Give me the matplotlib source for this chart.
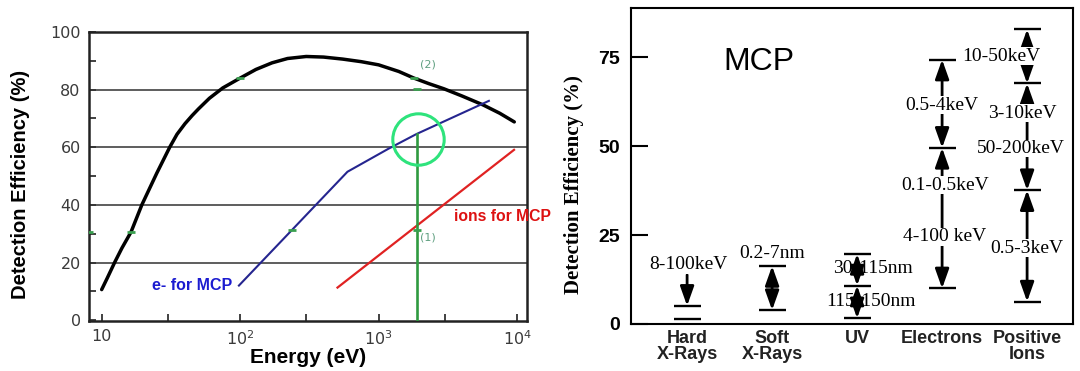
import matplotlib
matplotlib.use("Agg")
from matplotlib import pyplot as plt
from matplotlib.ticker import FixedLocator, NullFormatter

# ---- left panel: detection efficiency vs energy
black_energy = [10, 11, 12.4, 14, 16.3, 19.5, 25, 31, 35, 40, 45, 50, 60, 75,
                100, 130, 170, 220, 300, 400, 550, 750, 1000, 1400, 1800,
                2300, 2960, 4000, 5680, 7500, 9550]
black_eff = [10.6, 14.7, 20, 25, 30.6, 40, 51, 60, 64.5, 68.2, 71, 73.3,
             77, 80.6, 84, 87, 89.3, 90.8, 91.5, 91.3, 90.6, 89.7, 88.6,
             86.3, 84, 82.1, 80.3, 77.8, 74.7, 71.8, 68.8]

electron_energy = [98, 238, 596, 1180, 1880, 6260]
electron_eff = [12.0, 31.4, 51.5, 59.5, 64.6, 76.1]

ion_energy = [505, 9510]
ion_eff = [11.3, 59.1]

marker_energy = [8.1, 16.3, 100, 1800, 1880, 238, 1880]
marker_eff = [30.6, 30.6, 84, 84, 80.3, 31.4, 31.4]

cut_energy = 1880
cut_eff = 64.6
circle_energy = 1920
circle_eff = 63

x_ticks = [10, 100, 1000, 10000]
x_tick_labels = ["10", "$10^2$", "$10^3$", "$10^4$"]

# ---- right panel: MCP efficiency ranges
categories = ["Hard\nX-Rays", "Soft\nX-Rays", "UV", "Electrons", "Positive\nIons"]

cap_cat = [0, 0, 1, 1, 2, 2, 2, 3, 3, 3, 4, 4, 4, 4]
cap_y = [1.3, 5.1, 3.9, 16.3, 1.6, 10.8, 19.7, 10.0, 49.5, 74.3,
         6.3, 37.6, 67.6, 82.8]

arrow_cat = [0, 1, 2, 2, 3, 3, 4, 4, 4]
arrow_from = [13.8, 3.9, 10.8, 1.6, 49.5, 10.0, 67.6, 37.6, 6.3]
arrow_to = [5.1, 16.3, 19.7, 10.8, 74.3, 49.5, 82.8, 67.6, 37.6]
arrow_style = ["-|>", "<|-|>", "<|-|>", "<|-|>", "<|-|>", "<|-|>",
               "<|-|>", "<|-|>", "<|-|>"]

label_cat = [0, 1, 2, 2, 3, 3, 3, 4, 4, 4, 4]
label_y = [16.6, 19.9, 15.6, 6.3, 61.5, 39.0, 24.5, 75.3, 59.2, 49.3, 21.3]
label_text = ["8-100keV", "0.2-7nm", "30-115nm", "115-150nm", "0.5-4keV",
              "0.1-0.5keV", "4-100 keV", "10-50keV", "3-10keV",
              "50-200keV", "0.5-3keV"]
label_dx = [0.02, 0.0, 0.19, 0.16, 0.0, 0.03, 0.03, -0.3, -0.05, -0.07, 0.0]
label_box = [True, True, False, False, True, True, True, True, True, True, True]

fig = plt.figure(figsize=(10.8, 3.71), dpi=100)

# ================= left panel
ax1 = fig.add_axes([89 / 1080, 50 / 371, 438 / 1080, 289 / 371])
ax1.set_xscale("log")
ax1.set_xlim(8.1, 11800)
ax1.set_ylim(-0.3, 100)

for y in range(20, 100, 20):
    ax1.axhline(y, color="#505050", lw=1.3, zorder=1)

ax1.plot(black_energy, black_eff, color="black", lw=2.5, zorder=3,
         solid_capstyle="round", solid_joinstyle="round")
ax1.plot(electron_energy, electron_eff, color="#25258f", lw=1.5, zorder=3)
ax1.plot(ion_energy, ion_eff, color="#e02222", lw=1.6, zorder=3)
ax1.plot([cut_energy, cut_energy], [-0.3, cut_eff], color="#2f9a40",
         lw=1.9, zorder=4)
ax1.plot(marker_energy, marker_eff, ls="none", marker="_", ms=6, mew=2,
         color="#3aa050", zorder=5)
ax1.plot([circle_energy], [circle_eff], ls="none", marker="o", ms=37,
         mfc="none", mec="#2ee37c", mew=2.2, zorder=6)

ax1.text(2265, 88.6, "(2)", fontsize=8, color="#5f9f80", ha="center",
         va="center")
ax1.text(2265, 28.7, "(1)", fontsize=8, color="#5f9f80", ha="center",
         va="center")
ax1.text(87.5, 12.0, "e- for MCP", color="#1c1cd0", fontsize=11.5,
         fontweight="bold", family="Liberation Sans", ha="right", va="center")
ax1.text(3490, 35.9, "ions for MCP", color="#dd1111", fontsize=11.3,
         fontweight="bold", family="Liberation Sans", ha="left", va="center",
         clip_on=False)

ax1.set_xticks(x_ticks)
ax1.set_xticklabels(x_tick_labels)
ax1.xaxis.set_minor_locator(FixedLocator([30, 300, 3000]))
ax1.xaxis.set_minor_formatter(NullFormatter())
ax1.set_yticks(range(0, 101, 20))
ax1.yaxis.set_minor_locator(FixedLocator(range(10, 100, 20)))
ax1.tick_params(which="both", direction="in", length=5, width=1.3,
                color="#333333", labelsize=11.5, labelcolor="#3a3a3a", pad=6)
for s in ax1.spines.values():
    s.set_linewidth(1.8)
    s.set_color("#222222")

ax1.set_xlabel("Energy (eV)", fontsize=15, fontweight="bold",
               family="Liberation Sans")
ax1.xaxis.label.set_va("center")
ax1.xaxis.set_label_coords(0.5, -0.128)
ax1.set_ylabel("Detection Efficiency (%)", fontsize=14.5, fontweight="bold",
               family="Liberation Sans")
ax1.yaxis.label.set_va("center")
ax1.yaxis.set_label_coords(-0.157, 0.474)

# ================= right panel
ax2 = fig.add_axes([631 / 1080, 47 / 371, 442 / 1080, 316 / 371])
ax2.set_xlim(-0.66, 4.54)
ax2.set_ylim(0, 88.8)

ax2.hlines(cap_y, [c - 0.16 for c in cap_cat], [c + 0.16 for c in cap_cat],
           color="black", lw=1.7, zorder=3)

for c, y0, y1, st in zip(arrow_cat, arrow_from, arrow_to, arrow_style):
    ax2.annotate("", xy=(c, y1), xytext=(c, y0),
                 arrowprops=dict(arrowstyle=st + ",head_length=0.9,head_width=0.32",
                                 mutation_scale=13, lw=2.0, color="black",
                                 shrinkA=0, shrinkB=0), zorder=2)

for c, y, t, dx, box in zip(label_cat, label_y, label_text, label_dx, label_box):
    kw = {}
    if box:
        kw["bbox"] = dict(fc="white", ec="none", pad=0.3)
    ax2.text(c + dx, y, t, fontsize=14, family="Liberation Serif",
             ha="center", va="center", zorder=4, **kw)

ax2.text(0.84, 73.6, "MCP", fontsize=23, family="Liberation Sans",
         ha="center", va="center")

ax2.set_xticks(range(len(categories)))
ax2.set_xticklabels(categories, fontsize=13, fontweight="bold",
                    family="Liberation Sans", color="#222222")
for lbl in ax2.get_xticklabels():
    lbl.set_linespacing(0.95)
ax2.tick_params(axis="x", length=0, pad=4)
ax2.set_yticks([0, 25, 50, 75])
ax2.set_yticklabels(["0", "25", "50", "75"], fontsize=14, fontweight="bold",
                    family="Liberation Sans")
ax2.tick_params(axis="y", direction="in", length=12, width=1.5, pad=8)
for s in ax2.spines.values():
    s.set_linewidth(1.5)

ax2.set_ylabel("Detection Efficiency (%)", fontsize=15, fontweight="bold",
               family="Liberation Serif")
ax2.yaxis.label.set_va("center")
ax2.yaxis.set_label_coords(-0.129, 0.44)

fig.savefig("out.png", dpi=100)
